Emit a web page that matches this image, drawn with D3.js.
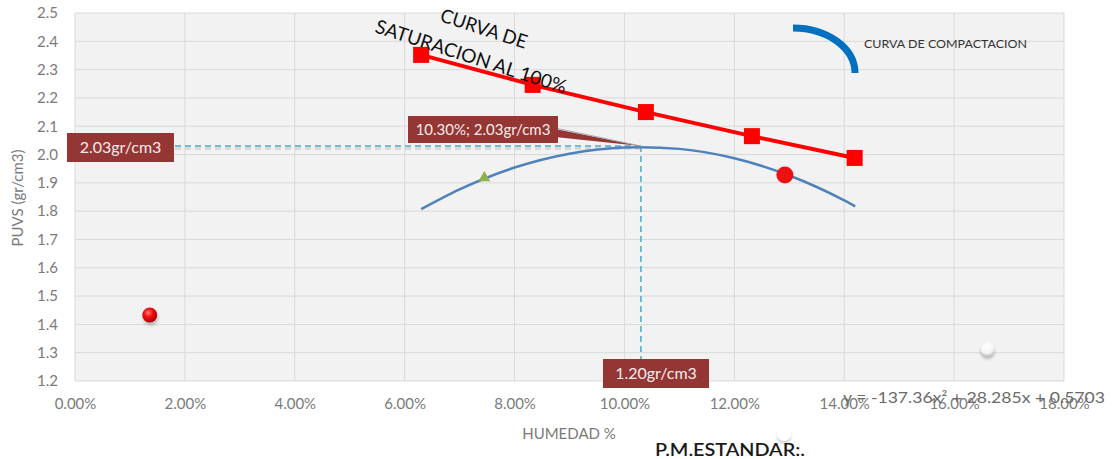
<!DOCTYPE html>
<html>
<head>
<meta charset="utf-8">
<script src="https://cdn.jsdelivr.net/npm/d3@7"></script>
<style>
  html, body { margin: 0; padding: 0; background: #ffffff; }
  svg { display: block; }
  text { font-family: Lato, "Open Sans", sans-serif; }
</style>
</head>
<body>
<svg id="chart" width="1112" height="459"></svg>
<script>
// Saturation curve (100%) points: humidity (fraction) and dry density (gr/cm3)
const satHumidity = [0.063, 0.0833, 0.1039, 0.1232, 0.1419];
const satDensity  = [2.352, 2.246, 2.150, 2.065, 1.988];

// Compaction curve (polynomial trendline) read at several humidities
const compHumidity = [0.063, 0.070, 0.080, 0.090, 0.100, 0.103, 0.110, 0.120, 0.130, 0.140, 0.142];
const compDensity  = [1.807, 1.877, 1.954, 2.003, 2.025, 2.026, 2.020, 1.987, 1.926, 1.838, 1.817];

// Individual test points
const triangleHumidity = [0.0745];
const triangleDensity  = [1.918];
const redDotHumidity   = [0.0136, 0.1292];
const redDotDensity    = [1.433, 1.928];
const whiteDotHumidity = [0.1661];
const whiteDotDensity  = [1.309];

// Optimum point
const optimumHumidity = 0.103;
const optimumDensity  = 2.03;
const minDensityLabel = 1.20;

const xTicks = [0, 0.02, 0.04, 0.06, 0.08, 0.10, 0.12, 0.14, 0.16, 0.18];
const yTicks = [1.2, 1.3, 1.4, 1.5, 1.6, 1.7, 1.8, 1.9, 2.0, 2.1, 2.2, 2.3, 2.4, 2.5];

const trendEquation = "y = -137.36x\u00B2 + 28.285x + 0.5703";

const svg = d3.select("#chart");
const x = d3.scaleLinear().domain([0, 0.18]).range([75, 1064]);
const y = d3.scaleLinear().domain([1.2, 2.5]).range([381, 13]);

const defs = svg.append("defs");
const redGrad = defs.append("radialGradient").attr("id", "redBall")
  .attr("cx", "40%").attr("cy", "35%").attr("r", "65%");
redGrad.append("stop").attr("offset", "0%").attr("stop-color", "#ff7a7a");
redGrad.append("stop").attr("offset", "45%").attr("stop-color", "#f01010");
redGrad.append("stop").attr("offset", "100%").attr("stop-color", "#b00000");
const whiteGrad = defs.append("radialGradient").attr("id", "whiteBall")
  .attr("cx", "45%").attr("cy", "30%").attr("r", "70%");
whiteGrad.append("stop").attr("offset", "0%").attr("stop-color", "#ffffff");
whiteGrad.append("stop").attr("offset", "70%").attr("stop-color", "#f4f4f4");
whiteGrad.append("stop").attr("offset", "100%").attr("stop-color", "#c8c8c8");
const shadow = defs.append("filter").attr("id", "soft")
  .attr("x", "-50%").attr("y", "-50%").attr("width", "200%").attr("height", "200%");
shadow.append("feGaussianBlur").attr("stdDeviation", 1.5);

// plot area
svg.append("rect")
  .attr("x", x(0)).attr("y", y(2.5))
  .attr("width", x(0.18) - x(0)).attr("height", y(1.2) - y(2.5))
  .attr("fill", "#f2f2f2");

// gridlines
const grid = svg.append("g").attr("stroke", "#d9d9d9").attr("stroke-width", 1);
grid.selectAll(".gx").data(xTicks).join("line")
  .attr("x1", d => x(d)).attr("x2", d => x(d))
  .attr("y1", y(2.5)).attr("y2", y(1.2));
grid.selectAll(".gy").data(yTicks).join("line")
  .attr("x1", x(0)).attr("x2", x(0.18))
  .attr("y1", d => y(d)).attr("y2", d => y(d));

// axes (labels only)
const xAxis = d3.axisBottom(x).tickValues(xTicks).tickFormat(d3.format(".2%")).tickSize(0).tickPadding(17);
const gx = svg.append("g").attr("transform", `translate(0,${y(1.2)})`).call(xAxis);
gx.select(".domain").remove();
gx.selectAll("text").attr("fill", "#7a7a7a").attr("font-size", 15)
  .attr("font-family", "Lato, sans-serif");

const yAxis = d3.axisLeft(y).tickValues(yTicks).tickFormat(d3.format(".1f")).tickSize(0).tickPadding(17);
const gy = svg.append("g").attr("transform", `translate(${x(0)},0)`).call(yAxis);
gy.select(".domain").remove();
gy.selectAll("text").attr("fill", "#7a7a7a").attr("font-size", 15)
  .attr("font-family", "Lato, sans-serif");

// axis titles
svg.append("text").attr("x", 569).attr("y", 439).attr("text-anchor", "middle")
  .attr("fill", "#7a7a7a").attr("font-size", 15).text("HUMEDAD %");
svg.append("text").attr("transform", "translate(23,198) rotate(-90)").attr("text-anchor", "middle")
  .attr("fill", "#7a7a7a").attr("font-size", 15).text("PUVS (gr/cm3)");

// dashed guide lines to the optimum point
const guide = svg.append("g").attr("fill", "none");
guide.append("line")
  .attr("x1", x(0)).attr("x2", x(optimumHumidity))
  .attr("y1", y(optimumDensity) + 2.5).attr("y2", y(optimumDensity) + 2.5)
  .attr("stroke", "#d4d4d4").attr("stroke-width", 2.5).attr("stroke-dasharray", "6,4");
guide.append("line")
  .attr("x1", x(0)).attr("x2", x(optimumHumidity))
  .attr("y1", y(optimumDensity)).attr("y2", y(optimumDensity))
  .attr("stroke", "#4bacc6").attr("stroke-width", 1.5).attr("stroke-dasharray", "6,4");
guide.append("line")
  .attr("x1", x(optimumHumidity)).attr("x2", x(optimumHumidity))
  .attr("y1", y(optimumDensity)).attr("y2", y(1.2))
  .attr("stroke", "#4bacc6").attr("stroke-width", 1.5).attr("stroke-dasharray", "6,4");

// compaction curve
const compData = compHumidity.map((h, i) => [h, compDensity[i]]);
svg.append("path").datum(compData)
  .attr("fill", "none").attr("stroke", "#4f81bd").attr("stroke-width", 2.5)
  .attr("d", d3.line().x(d => x(d[0])).y(d => y(d[1])).curve(d3.curveMonotoneX));

// saturation curve
const satData = satHumidity.map((h, i) => [h, satDensity[i]]);
svg.append("path").datum(satData)
  .attr("fill", "none").attr("stroke", "#ff0000").attr("stroke-width", 4)
  .attr("d", d3.line().x(d => x(d[0])).y(d => y(d[1])));
svg.selectAll(".sq").data(satData).join("rect")
  .attr("x", d => x(d[0]) - 8).attr("y", d => y(d[1]) - 8)
  .attr("width", 16).attr("height", 16).attr("fill", "#ff0000");

// triangle marker
triangleHumidity.forEach((h, i) => {
  svg.append("path")
    .attr("transform", `translate(${x(h)},${y(triangleDensity[i])})`)
    .attr("d", d3.symbol(d3.symbolTriangle, 60)())
    .attr("fill", "#8fb04a");
});

// red markers
redDotHumidity.forEach((h, i) => {
  const cx = x(h), cy = y(redDotDensity[i]);
  if (i === 0) {
    svg.append("circle").attr("cx", cx + 1).attr("cy", cy + 3).attr("r", 7.5)
      .attr("fill", "#888").attr("opacity", 0.5).attr("filter", "url(#soft)");
    svg.append("circle").attr("cx", cx).attr("cy", cy).attr("r", 7.5).attr("fill", "url(#redBall)");
  } else {
    svg.append("circle").attr("cx", cx).attr("cy", cy).attr("r", 8.5).attr("fill", "#ee1111");
  }
});

// white markers
whiteDotHumidity.forEach((h, i) => {
  const cx = x(h), cy = y(whiteDotDensity[i]);
  svg.append("circle").attr("cx", cx).attr("cy", cy + 2).attr("r", 7)
    .attr("fill", "#999").attr("opacity", 0.6).attr("filter", "url(#soft)");
  svg.append("circle").attr("cx", cx).attr("cy", cy - 1).attr("r", 7).attr("fill", "url(#whiteBall)");
});
svg.append("circle").attr("cx", 784).attr("cy", 437).attr("r", 7)
  .attr("fill", "#aaa").attr("opacity", 0.5).attr("filter", "url(#soft)");
svg.append("circle").attr("cx", 784).attr("cy", 434).attr("r", 7).attr("fill", "#ffffff");

// data labels
const labelFill = "#943634";
function boxLabel(x0, y0, w, h, txt, size) {
  svg.append("rect").attr("x", x0).attr("y", y0).attr("width", w).attr("height", h).attr("fill", labelFill);
  svg.append("text").attr("x", x0 + w / 2).attr("y", y0 + h / 2 + 5.5)
    .attr("text-anchor", "middle").attr("fill", "#f4ecec").attr("font-size", size).text(txt);
}
const ox = x(optimumHumidity), oy = y(optimumDensity);
svg.append("path")
  .attr("d", `M555,129 L${ox},${oy} L555,137 Z`).attr("fill", labelFill);
svg.append("line").attr("x1", 555).attr("y1", 128).attr("x2", ox).attr("y2", oy)
  .attr("stroke", "#a8a8a8").attr("stroke-width", 1);
boxLabel(408, 116, 150, 27, `${d3.format(".2%")(optimumHumidity)}; ${optimumDensity.toFixed(2)}gr/cm3`, 15);
boxLabel(67, 133, 107, 29, `${optimumDensity.toFixed(2)}gr/cm3`, 16);
boxLabel(603, 359, 106, 29, `${minDensityLabel.toFixed(2)}gr/cm3`, 16);

// saturation curve title
svg.append("text").attr("transform", "translate(439,21) rotate(18)")
  .attr("fill", "#111").attr("font-size", 19).attr("textLength", 90).attr("lengthAdjust", "spacingAndGlyphs")
  .text("CURVA DE");
svg.append("text").attr("transform", "translate(374,32) rotate(18)")
  .attr("fill", "#111").attr("font-size", 19).attr("textLength", 200).attr("lengthAdjust", "spacingAndGlyphs")
  .text("SATURACION AL 100%");

// compaction legend
svg.append("path").attr("d", "M793,28 A62,45 0 0 1 855,73")
  .attr("fill", "none").attr("stroke", "#0070c0").attr("stroke-width", 7);
svg.append("text").attr("x", 864).attr("y", 48).attr("fill", "#333")
  .attr("font-size", 11.5).attr("textLength", 163).attr("lengthAdjust", "spacingAndGlyphs")
  .text("CURVA DE COMPACTACION");

// trendline equation, drawn over the right-hand axis labels
svg.append("text").attr("x", 843).attr("y", 403).attr("fill", "#6a6a6a")
  .attr("font-size", 15).attr("textLength", 262).attr("lengthAdjust", "spacingAndGlyphs")
  .text(trendEquation);

// footer
svg.append("text").attr("x", 655).attr("y", 456).attr("fill", "#1a1a1a")
  .attr("font-size", 17).attr("font-weight", 600).attr("textLength", 150).attr("lengthAdjust", "spacingAndGlyphs")
  .text("P.M.ESTANDAR:.");
</script>
</body>
</html>
